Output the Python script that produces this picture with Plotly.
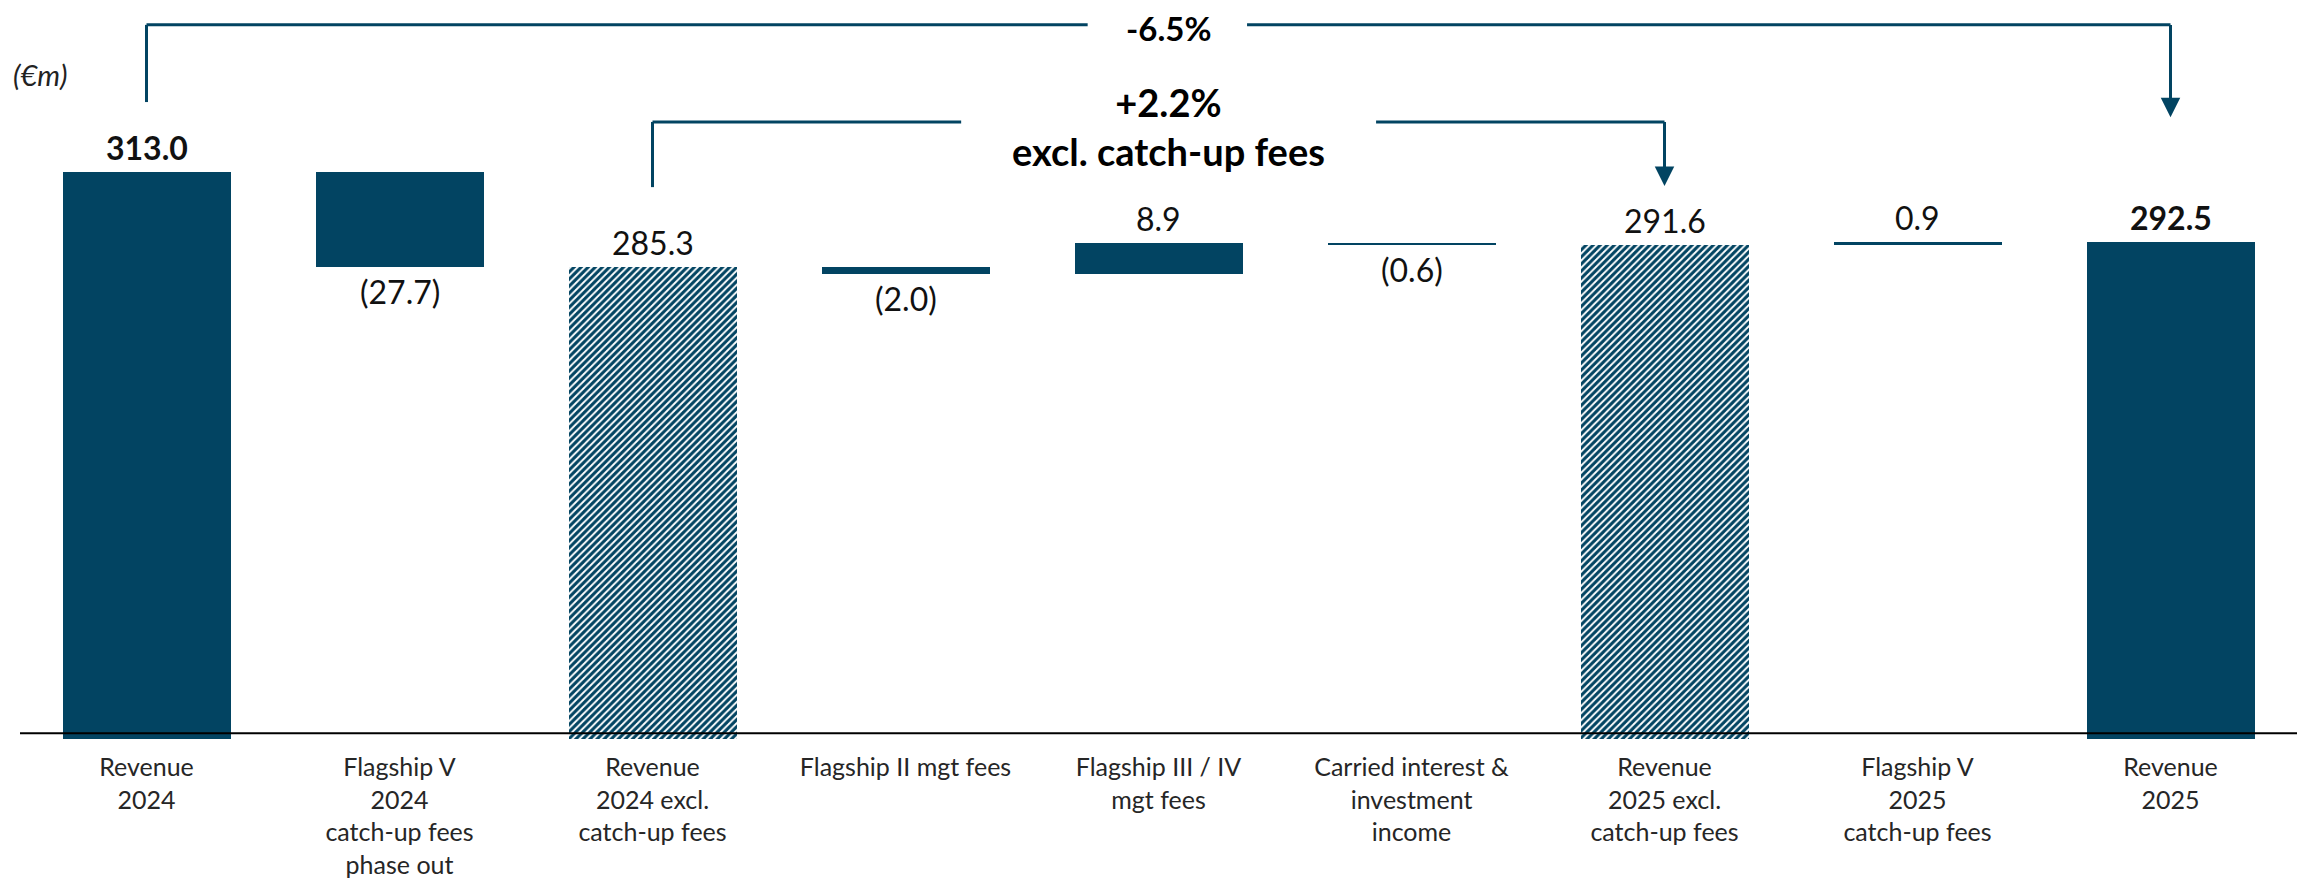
import plotly.graph_objects as go

# ---------------- data ----------------
categories = [
    "Revenue<br>2024",
    "Flagship V<br>2024<br>catch-up fees<br>phase out",
    "Revenue<br>2024 excl.<br>catch-up fees",
    "Flagship II mgt fees",
    "Flagship III / IV<br>mgt fees",
    "Carried interest &<br>investment<br>income",
    "Revenue<br>2025 excl.<br>catch-up fees",
    "Flagship V<br>2025<br>catch-up fees",
    "Revenue<br>2025",
]
values = [313.0, -27.7, 285.3, -2.0, 8.9, -0.6, 291.6, 0.9, 292.5]
measures = ["total", "delta", "total", "delta", "delta", "delta", "total", "delta", "total"]
hatched = [False, False, True, False, False, False, True, False, False]
bold_labels = [True, False, False, False, False, False, False, False, True]
bridge_texts = ["<b>-6.5%</b>", "<b>+2.2%<br>excl. catch-up fees</b>"]
unit_label = "(€m)"

# ---------------- styling ----------------
NAVY = "#024462"
FONT = "Lato"
W, H = 2305, 879
ML, MR, MT, MB = 12, 16, 0, 148
Y_MIN = 147.7
PX_PER_UNIT = 3.43
Y_MAX = Y_MIN + (H - MT - MB) / PX_PER_UNIT

# compute waterfall bases
bases, heights, ends = [], [], []
cum = 0.0
for v, m in zip(values, measures):
    if m == "total":
        bases.append(0.0)
        heights.append(v)
        cum = v
    else:
        bases.append(cum)
        heights.append(v)
        cum = cum + v
    ends.append(cum)

xs = list(range(len(categories)))

fig = go.Figure()
fig.add_trace(go.Bar(
    x=xs,
    y=heights,
    base=bases,
    width=0.664,
    marker=dict(
        color=NAVY,
        line=dict(width=0),
        pattern=dict(
            shape=["/" if h else "" for h in hatched],
            fgcolor=NAVY,
            bgcolor=["white" if h else NAVY for h in hatched],
            size=5,
            solidity=0.62,
            fillmode="replace",
        ),
    ),
    hoverinfo="skip",
    showlegend=False,
))

annotations = []
# value labels
for i, (v, m, b, e) in enumerate(zip(values, measures, bases, ends)):
    txt = f"{abs(v):.1f}"
    if v < 0:
        txt = f"({abs(v):.1f})"
    if bold_labels[i]:
        txt = f"<b>{txt}</b>"
    if v >= 0:
        yanchor, ysh = "bottom", 3
    else:
        yanchor, ysh = "top", -3
    annotations.append(dict(
        x=i, y=e, xref="x", yref="y", text=txt, showarrow=False,
        yanchor=yanchor, xanchor="center", yshift=ysh,
        font=dict(family=FONT, size=32, color="#111111"),
    ))

# unit label
annotations.append(dict(
    x=-0.004, y=341.3, xref="paper", yref="y", text=f"<i>{unit_label}</i>",
    showarrow=False, xanchor="left", yanchor="middle",
    font=dict(family=FONT, size=29, color="#222222"),
))

# bridge brackets
shapes = []
brackets = [
    dict(x0=0, x1=8, yl=355.9, ys=333.4, yt=329.0, tx=4.04, g0=3.72, g1=4.35, ty=354.9, size=33, text=bridge_texts[0]),
    dict(x0=2, x1=6, yl=327.6, ys=308.6, yt=308.9, tx=4.04, g0=3.22, g1=4.86, ty=326.4, size=38, text=bridge_texts[1]),
]
for br in brackets:
    line = dict(color=NAVY, width=3)
    shapes.append(dict(type="line", xref="x", yref="y", x0=br["x0"], x1=br["x0"], y0=br["ys"], y1=br["yl"], line=line))
    shapes.append(dict(type="line", xref="x", yref="y", x0=br["x0"], x1=br["g0"], y0=br["yl"], y1=br["yl"], line=line))
    shapes.append(dict(type="line", xref="x", yref="y", x0=br["g1"], x1=br["x1"], y0=br["yl"], y1=br["yl"], line=line))
    annotations.append(dict(
        x=br["x1"], y=br["yt"], xref="x", yref="y",
        ax=br["x1"], ay=br["yl"] + 0.4, axref="x", ayref="y",
        showarrow=True, arrowhead=2, arrowsize=1.3, arrowwidth=3,
        arrowcolor=NAVY, standoff=0, text="",
    ))
    annotations.append(dict(
        x=br["tx"], y=br["ty"], xref="x", yref="y", text=br["text"],
        showarrow=False, xanchor="center", yanchor="middle",
        font=dict(family=FONT, size=br["size"], color="#000000"),
    ))

# baseline axis line
shapes.append(dict(type="line", xref="paper", yref="y", x0=0, x1=1, y0=149.4, y1=149.4,
                   line=dict(color="#000000", width=2)))

fig.update_layout(
    width=W, height=H,
    margin=dict(l=ML, r=MR, t=MT, b=MB),
    paper_bgcolor="white", plot_bgcolor="white",
    shapes=shapes, annotations=annotations,
    xaxis=dict(
        range=[-0.5, 8.5], tickmode="array", tickvals=xs, ticktext=categories,
        showgrid=False, zeroline=False, showline=False, ticks="",
        ticklabelstandoff=11,
        tickfont=dict(family=FONT, size=25, color="#262626"),
        fixedrange=True,
    ),
    yaxis=dict(
        range=[Y_MIN, Y_MAX], showgrid=False, zeroline=False, showline=False,
        showticklabels=False, ticks="", fixedrange=True,
    ),
    bargap=0,
)

fig.write_html("out.html")
